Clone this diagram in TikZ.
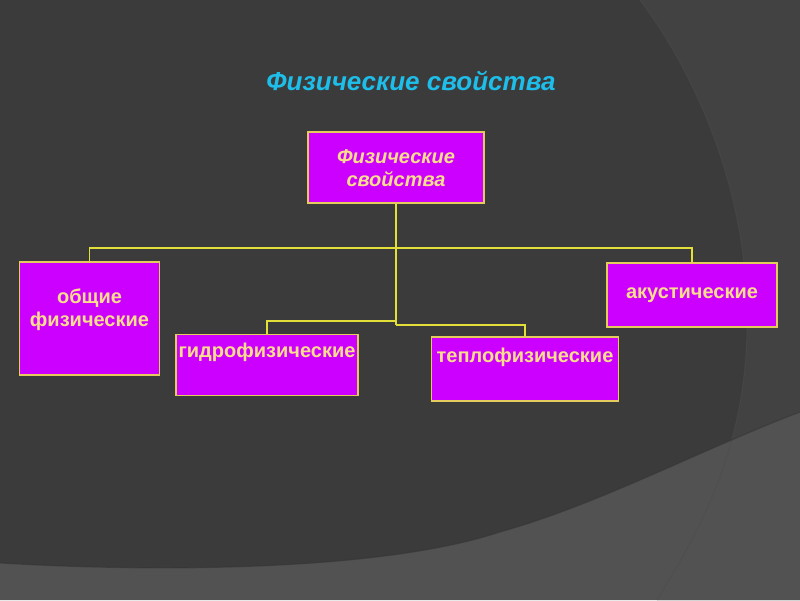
\documentclass[tikz,border=0pt]{standalone}
\usepackage{fontspec}
\setmainfont{Liberation Sans}
\definecolor{bgdark}{HTML}{3B3B3B}
\definecolor{bgmid}{HTML}{424242}
\definecolor{bglight}{HTML}{525252}
\definecolor{boxfill}{HTML}{CC00FF}
\definecolor{boxrim}{HTML}{E4CC5C}
\definecolor{txtpale}{HTML}{FADE8C}
\definecolor{wire}{HTML}{E2E038}
\definecolor{titlecyan}{HTML}{1EBEEA}
\newcommand{\boxfont}{\fontsize{20}{23}\selectfont\bfseries}

\begin{document}
\begin{tikzpicture}[x=1pt,y=-1pt,
    box/.style={draw=boxrim,line width=1.5pt,fill=boxfill,inner sep=0pt},
    lbl/.style={text=txtpale,align=center,font=\boxfont,inner sep=0pt},
    link/.style={draw=wire,line width=1.3pt}]
      \useasboundingbox (0,0) rectangle (800,600);
%
      \fill[bgdark] (0,0) rectangle (800,600);
      \fill[bgmid] (640,0) .. controls (700,80) and (750,200) .. (747,330)
            .. controls (745,450) and (700,530) .. (657,600) -- (800,600) -- (800,0) -- cycle;
      \fill[bglight] (0,563) .. controls (150,572) and (380,572) .. (500,532)
            .. controls (600,504) and (700,450) .. (800,412) -- (800,600) -- (0,600) -- cycle;
      \draw[black!70,opacity=0.5,line width=1pt] (640,0) .. controls (700,80) and (750,200) .. (747,330)
            .. controls (745,450) and (700,530) .. (657,600);
      \draw[black!80,opacity=0.5,line width=1.2pt] (0,563) .. controls (150,572) and (380,572) .. (500,532)
            .. controls (600,504) and (700,450) .. (800,412);
%
      \node[text=titlecyan,font=\fontsize{26}{30}\selectfont\bfseries\itshape] (title) at (411,81) {Физические свойства};
%
      \node[box,minimum width=176pt,minimum height=71pt] (top) at (396,167.5) {};
      \node[lbl,font=\boxfont\itshape] (topT) at (396,168) {Физические\\свойства};
      \node[box,minimum width=140pt,minimum height=113pt] (obsh) at (89.5,318.5) {};
      \node[lbl] (obshT) at (89.5,310) {общие\\физические};
      \node[box,minimum width=182pt,minimum height=61pt] (hydro) at (267,365) {};
      \node[lbl] (hydroT) at (267,352) {гидрофизические};
      \node[box,minimum width=187pt,minimum height=64pt] (teplo) at (525,369) {};
      \node[lbl] (teploT) at (525,357) {теплофизические};
      \node[box,minimum width=170pt,minimum height=64pt] (akust) at (692,295) {};
      \node[lbl] (akustT) at (692,295) {акустические};
%
      \coordinate (bus) at (396,248);
      \coordinate (hj) at (396,321);
      \coordinate (tj) at (396,325);
      \draw[link] (top.south) -- (tj);
      \draw[link] (bus) -| (obsh.north);
      \draw[link] (bus) -| (akust.north);
      \draw[link] (hj) -| (hydro.north);
      \draw[link] (tj) -| (teplo.north);
    \end{tikzpicture}
\end{document}
